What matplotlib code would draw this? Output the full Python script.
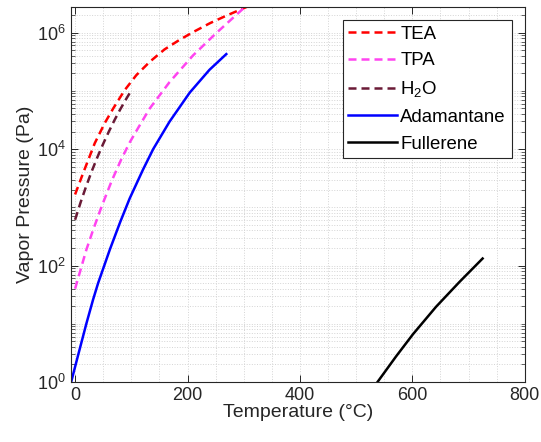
import matplotlib
matplotlib.use("Agg")
import matplotlib.pyplot as plt
from matplotlib.ticker import MultipleLocator, NullFormatter, LogFormatterSciNotation

plt.rcParams['font.family'] = ['Liberation Sans', 'DejaVu Sans']
plt.rcParams['mathtext.fontset'] = 'custom'
plt.rcParams['mathtext.rm'] = 'Liberation Sans'
plt.rcParams['mathtext.it'] = 'Liberation Sans:italic'

# datos (T en grados C, P en Pa)
tea_t = [0, 14, 35, 53, 68, 88, 109, 133, 159, 185, 210, 240, 269, 305, 312]
tea_p = [1660, 3800, 12600, 28200, 50100, 102000, 186000, 316000, 513000,
         741000, 1.02e6, 1.45e6, 1.95e6, 2.75e6, 2.95e6]

tpa_t = [0, 20, 32, 47, 65, 82, 97, 112, 133, 168, 210, 251, 300, 312]
tpa_p = [40, 186, 407, 1020, 2820, 6610, 12900, 22900, 50100, 141000,
         407000, 977000, 2.63e6, 3.2e6]

h2o_t = [0, 10, 20, 30, 40, 50, 60, 70, 80, 90, 100]
h2o_p = [611, 1230, 2340, 4250, 7380, 12300, 19900, 31200, 47400, 70100, 101300]

ada_t = [-7, 5, 20, 32, 41, 62, 80, 97, 121, 139, 168, 204, 239, 269]
ada_p = [1.0, 2.8, 10, 26, 50, 190, 550, 1410, 4470, 10000, 29500,
         93300, 229000, 427000]

ful_t = [538, 571, 601, 642, 684, 725]
ful_p = [1.0, 2.75, 6.6, 19.5, 52.5, 132]

fig = plt.figure(figsize=(5.41, 4.42), dpi=100)
ax = fig.add_axes([0.131, 0.1357, 0.839, 0.8485])

lw = 1.8
dash = (3.2, 2.0)
ax.plot(tea_t, tea_p, color='#ff0000', lw=lw, dashes=dash, label='TEA')
ax.plot(tpa_t, tpa_p, color='#ff44f0', lw=lw, dashes=dash, label='TPA')
ax.plot(h2o_t, h2o_p, color='#6a1a36', lw=lw, dashes=dash, label='H$_2$O')
ax.plot(ada_t, ada_p, color='#0000ff', lw=lw, label='Adamantane')
ax.plot(ful_t, ful_p, color='#000000', lw=lw, label='Fullerene')

ax.set_yscale('log')

ax.xaxis.set_major_locator(MultipleLocator(200))
ax.xaxis.set_minor_locator(MultipleLocator(50))
# solo etiquetas cada dos decadas
ax.set_yticks([1, 1e2, 1e4, 1e6])
ax.set_yticks([1e1, 1e3, 1e5] + [m * 10**k for k in range(0, 7) for m in range(2, 10)], minor=True)
ax.yaxis.set_major_formatter(LogFormatterSciNotation())
ax.yaxis.set_minor_formatter(NullFormatter())

ax.set_xlim(-7.5, 800)
ax.set_ylim(1, 2.75e6)

ax.grid(True, which='both', color='#d4d4d4', linestyle=':', linewidth=0.7)
ax.set_axisbelow(True)

col = '#262626'
for s in ax.spines.values():
    s.set_color(col)
    s.set_linewidth(0.8)
ax.tick_params(which='both', direction='in', top=True, right=True,
               colors=col, labelsize=13)
ax.tick_params(which='major', length=5, width=0.7)
ax.tick_params(which='minor', length=3, width=0.5)
ax.tick_params(axis='x', which='minor', length=0)

ax.set_xlabel('Temperature (°C)', fontsize=14, color=col, labelpad=0)
ax.set_ylabel('Vapor Pressure (Pa)', fontsize=14, color=col, labelpad=2)

leg = ax.legend(loc='upper right', fontsize=13.4, fancybox=False, framealpha=1,
                edgecolor=col, handlelength=2.6, handletextpad=0.2,
                labelspacing=0.52, borderpad=0.3, borderaxespad=0,
                bbox_to_anchor=(0.971, 0.965))
leg.get_frame().set_linewidth(0.8)

fig.savefig('out.png', dpi=100)
